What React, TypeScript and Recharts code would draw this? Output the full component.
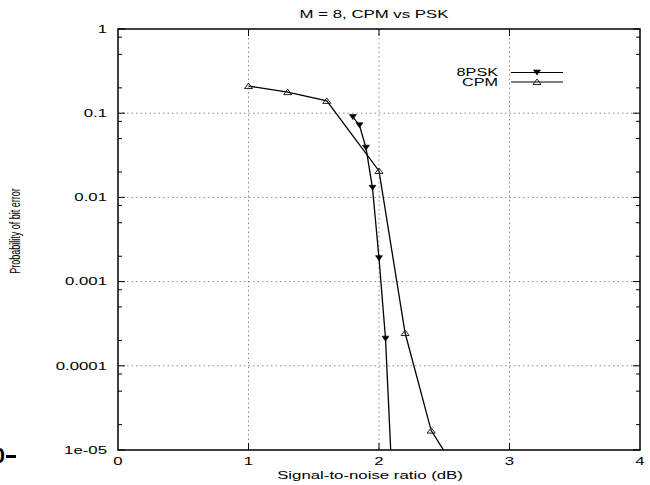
import { LineChart, Line, XAxis, YAxis, CartesianGrid, ReferenceArea, Legend } from "recharts"

// 8PSK curve
const pskSnr = [1.8, 1.85, 1.9, 1.95, 2.0, 2.05, 2.1]
const pskBer = [0.09, 0.072, 0.039, 0.013, 0.0019, 0.00021, 0.0000045]

// CPM curve
const cpmSnr = [1.0, 1.3, 1.6, 2.0, 2.2, 2.4, 2.6]
const cpmBer = [0.21, 0.178, 0.14, 0.0206, 0.000245, 0.000017, 0.0000055]

const xTicks = [0, 1, 2, 3, 4]
const yMajor = [1, 0.1, 0.01, 0.001, 0.0001, 0.00001]
const yLabels = ["1", "0.1", "0.01", "0.001", "0.0001", "1e-05"]
const yMinor = [
  0.8, 0.5, 0.2, 0.08, 0.05, 0.02, 0.008, 0.005, 0.002,
  0.0008, 0.0005, 0.0002, 0.00008, 0.00005, 0.00002,
]
const gridX = [1, 2, 3]
const gridY = [0.1, 0.01, 0.001, 0.0001]

const psk = pskSnr.map((snr, i) => ({ snr, ber: pskBer[i] }))
const cpm = cpmSnr.map((snr, i) => ({ snr, ber: cpmBer[i] }))

const W = 650
const H = 485
const margin = { top: 29, right: 10, bottom: 5, left: 8 }
const Y_AXIS_W = 110
const X_AXIS_H = 30
const PLOT_L = margin.left + Y_AXIS_W
const PLOT_R = W - margin.right
const PLOT_T = margin.top
const PLOT_B = H - margin.bottom - X_AXIS_H

const FONT = "'Liberation Sans', Arial, Helvetica, sans-serif"
const SX = 1.6 // the original text is stretched sideways

function YTick(props: any) {
  const { y, payload } = props
  const idx = yMajor.indexOf(payload.value)
  const len = idx >= 0 ? 7 : 4
  return (
    <g>
      <line x1={PLOT_L} x2={PLOT_L + len} y1={y} y2={y} stroke="#000" />
      <line x1={PLOT_R} x2={PLOT_R - len} y1={y} y2={y} stroke="#000" />
      {idx >= 0 && (
        <text
          transform={`translate(${PLOT_L - 11},${y + 3.8}) scale(${SX},1)`}
          textAnchor="end"
          fontSize={10.5}
          fontFamily={FONT}
          fill="#000"
        >
          {yLabels[idx]}
        </text>
      )}
    </g>
  )
}

function XTick(props: any) {
  const { x, payload } = props
  const inner = payload.value > 0 && payload.value < 4
  return (
    <g>
      {inner && <line x1={x} x2={x} y1={PLOT_B} y2={PLOT_B - 7} stroke="#000" />}
      {inner && <line x1={x} x2={x} y1={PLOT_T} y2={PLOT_T + 7} stroke="#000" />}
      <text
        transform={`translate(${x},${PLOT_B + 14.5}) scale(${SX},1)`}
        textAnchor="middle"
        fontSize={10.5}
        fontFamily={FONT}
        fill="#000"
      >
        {payload.value}
      </text>
    </g>
  )
}

function DownTri(props: any) {
  const { cx, cy, index } = props
  if (cx == null || cy == null) return <g key={`d-${index}`} />
  return (
    <path
      key={`d-${index}`}
      d={`M${cx - 3.5},${cy - 2.5} L${cx + 3.5},${cy - 2.5} L${cx},${cy + 2.5} Z`}
      fill="#000"
      stroke="#000"
      strokeWidth={0.6}
    />
  )
}

function UpTri(props: any) {
  const { cx, cy, index } = props
  if (cx == null || cy == null) return <g key={`u-${index}`} />
  return (
    <path
      key={`u-${index}`}
      d={`M${cx - 4},${cy + 2.5} L${cx + 4},${cy + 2.5} L${cx},${cy - 3} Z`}
      fill="none"
      stroke="#222"
      strokeWidth={1}
    />
  )
}

function renderLegend(props: any) {
  const items = props.payload || []
  return (
    <svg width={150} height={30}>
      {items.map((it: any, i: number) => {
        const ly = 10.5 + i * 9.5
        return (
          <g key={it.value}>
            <text
              transform={`translate(58,${ly + 3.6}) scale(1.62,1)`}
              textAnchor="end"
              fontSize={10}
              fontFamily={FONT}
              fill="#000"
            >
              {it.value}
            </text>
            <line x1={71} x2={123} y1={ly} y2={ly} stroke="#000" strokeWidth={1.2} />
            {i === 0 ? <DownTri cx={97} cy={ly} index={i} /> : <UpTri cx={97} cy={ly} index={i} />}
          </g>
        )
      })}
    </svg>
  )
}

function XLabel() {
  return (
    <text
      transform={`translate(370,${H - 6}) scale(${SX},1)`}
      textAnchor="middle"
      fontSize={10.5}
      fontFamily={FONT}
      fill="#000"
    >
      Signal-to-noise ratio (dB)
    </text>
  )
}

function YLabel() {
  return (
    <text
      transform={`translate(20,231) rotate(-90) scale(1,${SX})`}
      textAnchor="middle"
      fontSize={9}
      fontFamily={FONT}
      fill="#000"
    >
      Probability of bit error
    </text>
  )
}

export default function App() {
  return (
    <div style={{ position: "absolute", left: 0, top: 0, width: W, height: H, background: "#fff" }}>
      <LineChart width={W} height={H} margin={margin}>
        <CartesianGrid
          horizontalValues={gridY}
          verticalValues={gridX}
          stroke="#8a8a8a"
          strokeDasharray="1.5 3"
        />
        <XAxis
          dataKey="snr"
          type="number"
          domain={[0, 4]}
          ticks={xTicks}
          interval={0}
          allowDataOverflow
          axisLine={false}
          tickLine={false}
          height={X_AXIS_H}
          tick={<XTick />}
          label={<XLabel />}
        />
        <YAxis
          dataKey="ber"
          type="number"
          scale="log"
          domain={[0.00001, 1]}
          ticks={[...yMajor, ...yMinor]}
          interval={0}
          allowDataOverflow
          axisLine={false}
          tickLine={false}
          width={Y_AXIS_W}
          tick={<YTick />}
          label={<YLabel />}
        />
        <ReferenceArea x1={0} x2={4} y1={0.00001} y2={1} fill="none" stroke="#000" strokeWidth={1.5} />
        <Line
          data={psk}
          dataKey="ber"
          name="8PSK"
          stroke="#000"
          strokeWidth={1.3}
          dot={DownTri}
          activeDot={false}
          isAnimationActive={false}
        />
        <Line
          data={cpm}
          dataKey="ber"
          name="CPM"
          stroke="#000"
          strokeWidth={1.3}
          dot={UpTri}
          activeDot={false}
          isAnimationActive={false}
        />
        <Legend
          verticalAlign="middle"
          align="center"
          content={renderLegend}
          wrapperStyle={{ position: "absolute", left: 440, top: 62, width: 150, height: 30 }}
        />
      </LineChart>
      <svg width={W} height={H} style={{ position: "absolute", left: 0, top: 0, pointerEvents: "none" }}>
        <text
          transform={`translate(374,18) scale(${SX},1)`}
          textAnchor="middle"
          fontSize={10.5}
          fontFamily={FONT}
          fill="#000"
        >
          M = 8, CPM vs PSK
        </text>
        <text x={5} y={463} textAnchor="end" fontSize={22} fontWeight="bold" fontFamily={FONT} fill="#000">
          0
        </text>
        <rect x={6} y={455} width={10} height={3} fill="#000" />
      </svg>
    </div>
  )
}
